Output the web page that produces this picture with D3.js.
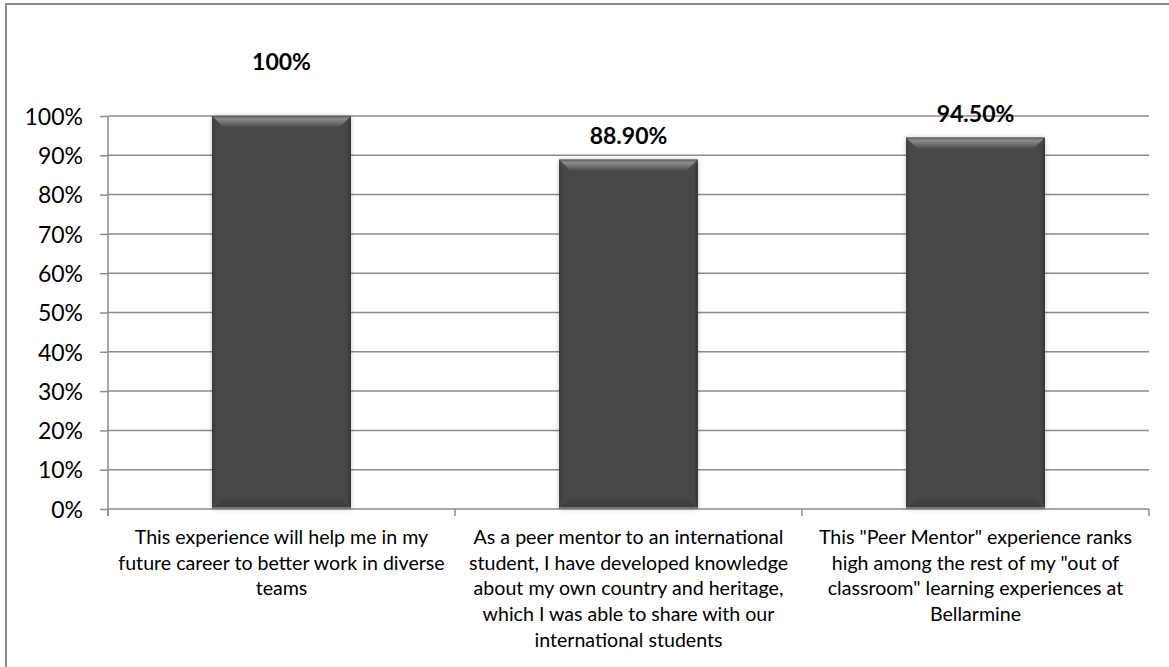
<!DOCTYPE html>
<html>
<head>
<meta charset="utf-8">
<script src="https://cdn.jsdelivr.net/npm/d3@7"></script>
<style>
  html, body { margin: 0; padding: 0; background: #fff; overflow: hidden; }
  svg { display: block; font-family: Lato, "Open Sans", sans-serif; }
</style>
</head>
<body>
<svg id="chart" width="1169" height="667"></svg>
<script>
// Survey results: share of peer mentors agreeing with each statement
const categories = [
  "This experience will help me in my\nfuture career to better work in diverse\nteams",
  "As a peer mentor to an international\nstudent, I have developed knowledge\nabout my own country and heritage,\nwhich I was able to share with our\ninternational students",
  "This \"Peer Mentor\" experience ranks\nhigh among the rest of my \"out of\nclassroom\" learning experiences at\nBellarmine"
];
const values = [1.00, 0.889, 0.945];
const valueLabels = ["100%", "88.90%", "94.50%"];
const tickValues = [0, 0.1, 0.2, 0.3, 0.4, 0.5, 0.6, 0.7, 0.8, 0.9, 1.0];

const svg = d3.select("#chart");
const margin = { left: 108, top: 116 };
const plotRight = 1149, plotBottom = 509;

// outer frame (only top and left edges fall inside the view)
svg.append("rect")
  .attr("x", 6).attr("y", 4)
  .attr("width", 1180).attr("height", 700)
  .attr("fill", "none").attr("stroke", "#8c8c8c").attr("stroke-width", 2);

const x = d3.scaleBand()
  .domain(d3.range(categories.length))
  .range([margin.left, plotRight])
  .paddingInner(0.6).paddingOuter(0.3);

const y = d3.scaleLinear().domain([0, 1]).range([plotBottom, margin.top]);

const defs = svg.append("defs");
const topGrad = defs.append("linearGradient").attr("id", "bevelTop")
  .attr("x1", 0).attr("y1", 0).attr("x2", 0).attr("y2", 1);
topGrad.append("stop").attr("offset", 0).attr("stop-color", "#5a5a5a");
topGrad.append("stop").attr("offset", 0.25).attr("stop-color", "#8c8c8c");
topGrad.append("stop").attr("offset", 1).attr("stop-color", "#4e4e4e");
const botGrad = defs.append("linearGradient").attr("id", "bevelBottom")
  .attr("x1", 0).attr("y1", 0).attr("x2", 0).attr("y2", 1);
botGrad.append("stop").attr("offset", 0).attr("stop-color", "#444");
botGrad.append("stop").attr("offset", 1).attr("stop-color", "#3a3a3a");
const leftGrad = defs.append("linearGradient").attr("id", "bevelLeft")
  .attr("x1", 0).attr("y1", 0).attr("x2", 1).attr("y2", 0);
leftGrad.append("stop").attr("offset", 0).attr("stop-color", "#3c3c3c");
leftGrad.append("stop").attr("offset", 1).attr("stop-color", "#464646");
const rightGrad = defs.append("linearGradient").attr("id", "bevelRight")
  .attr("x1", 0).attr("y1", 0).attr("x2", 1).attr("y2", 0);
rightGrad.append("stop").attr("offset", 0).attr("stop-color", "#464646");
rightGrad.append("stop").attr("offset", 1).attr("stop-color", "#333");
const shadow = defs.append("filter").attr("id", "barShadow")
  .attr("x", "-20%").attr("y", "-10%").attr("width", "140%").attr("height", "120%");
shadow.append("feGaussianBlur").attr("in", "SourceAlpha").attr("stdDeviation", 2.5);
shadow.append("feComponentTransfer").append("feFuncA").attr("type", "linear").attr("slope", 0.25);
const merge = shadow.append("feMerge");
merge.append("feMergeNode");
merge.append("feMergeNode").attr("in", "SourceGraphic");

// horizontal gridlines
svg.append("g").selectAll("line")
  .data(tickValues.slice(1))
  .join("line")
  .attr("x1", margin.left).attr("x2", plotRight)
  .attr("y1", d => y(d)).attr("y2", d => y(d))
  .attr("stroke", "#8c8c8c").attr("stroke-width", 1.5);

// value axis
const yAxis = svg.append("g")
  .attr("transform", `translate(${margin.left},0)`)
  .call(d3.axisLeft(y).tickValues(tickValues).tickFormat(d3.format(".0%"))
    .tickSize(8).tickPadding(17));
yAxis.select(".domain").attr("stroke", "#8c8c8c").attr("stroke-width", 1.5)
  .attr("d", `M0,${plotBottom + 7}V${margin.top}`);
yAxis.selectAll(".tick line").attr("stroke", "#8c8c8c").attr("stroke-width", 1.5);
yAxis.selectAll(".tick text").attr("font-size", 23).attr("fill", "#000")
  .attr("font-family", "Lato, sans-serif").attr("dy", "0.36em");

// category axis baseline and divider ticks
const catAxis = svg.append("g");
catAxis.append("line")
  .attr("x1", margin.left).attr("x2", plotRight)
  .attr("y1", plotBottom).attr("y2", plotBottom)
  .attr("stroke", "#8c8c8c").attr("stroke-width", 1.5);
const bounds = d3.range(categories.length + 1)
  .map(i => margin.left + i * (plotRight - margin.left) / categories.length);
catAxis.selectAll("line.div")
  .data(bounds)
  .join("line").attr("class", "div")
  .attr("x1", d => d).attr("x2", d => d)
  .attr("y1", plotBottom).attr("y2", plotBottom + 7)
  .attr("stroke", "#8c8c8c").attr("stroke-width", 1.5);

// bars with bevelled edges
const bev = 11, side = 4;
const bars = svg.append("g").selectAll("g.bar")
  .data(values)
  .join("g").attr("class", "bar");

bars.each(function(v, i) {
  const g = d3.select(this);
  const x0 = x(i), w = x.bandwidth(), x1 = x0 + w;
  const y0 = y(v), y1 = y(0);
  g.append("rect").attr("x", x0).attr("y", y0).attr("width", w).attr("height", y1 - y0)
    .attr("fill", "#464646").attr("filter", "url(#barShadow)");
  g.append("path").attr("fill", "url(#bevelLeft)")
    .attr("d", `M${x0},${y0}L${x0 + side},${y0 + bev}L${x0 + side},${y1 - bev}L${x0},${y1}Z`);
  g.append("path").attr("fill", "url(#bevelRight)")
    .attr("d", `M${x1},${y0}L${x1 - side},${y0 + bev}L${x1 - side},${y1 - bev}L${x1},${y1}Z`);
  g.append("path").attr("fill", "url(#bevelBottom)")
    .attr("d", `M${x0},${y1}L${x0 + bev},${y1 - bev}L${x1 - bev},${y1 - bev}L${x1},${y1}Z`);
  g.append("path").attr("fill", "url(#bevelTop)")
    .attr("d", `M${x0},${y0}L${x1},${y0}L${x1 - bev},${y0 + bev}L${x0 + bev},${y0 + bev}Z`);
  g.append("line").attr("x1", x0).attr("x2", x1).attr("y1", y1 - 1).attr("y2", y1 - 1)
    .attr("stroke", "#888").attr("stroke-width", 1.5);
});

// value labels above bars (a bar at the axis maximum gets its label lifted)
svg.append("g").selectAll("text")
  .data(values)
  .join("text")
  .attr("x", (d, i) => x(i) + x.bandwidth() / 2)
  .attr("y", d => d >= 1 ? y(d) - 46 : y(d) - 16)
  .attr("text-anchor", "middle")
  .attr("font-size", 23).attr("font-weight", "bold").attr("fill", "#000")
  .text((d, i) => valueLabels[i]);

// wrapped category labels
const labels = svg.append("g").selectAll("text")
  .data(categories)
  .join("text")
  .attr("text-anchor", "middle")
  .attr("font-size", 19.6).attr("fill", "#000");
labels.each(function(c, i) {
  const t = d3.select(this);
  const cx = (bounds[i] + bounds[i + 1]) / 2;
  c.split("\n").forEach((line, k) => {
    t.append("tspan").attr("x", cx).attr("y", 544 + k * 25.7).text(line);
  });
});
</script>
</body>
</html>
